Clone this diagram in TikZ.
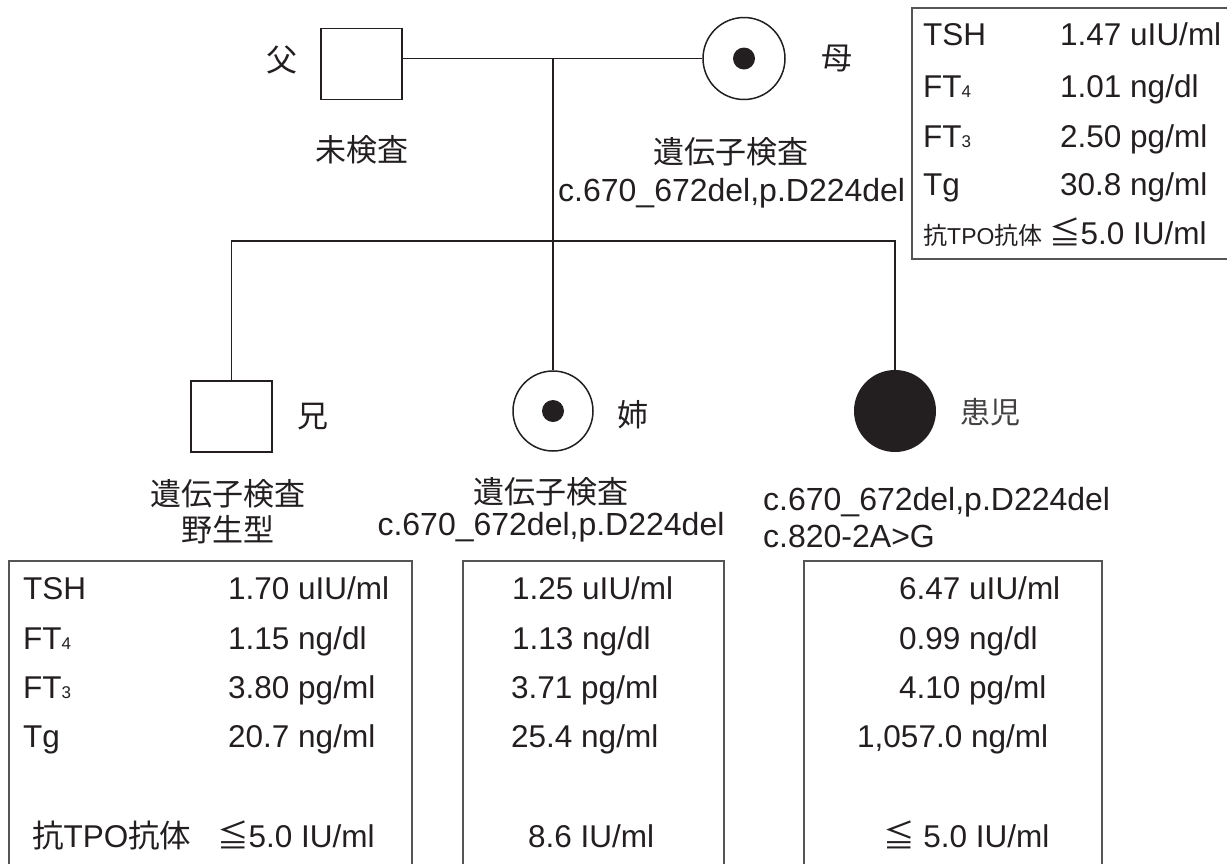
\documentclass[tikz,border=0pt]{standalone}
\usepackage{fontspec}
\setmainfont{Liberation Sans}
\newfontfamily\cjk{Noto Sans CJK JP}
\definecolor{ink}{HTML}{231F20}
\definecolor{boxgray}{HTML}{555555}
\newcommand\smallsub[1]{{\fontsize{17}{17}\selectfont #1}}
\newcommand\jpsmall[1]{{\cjk\fontsize{24}{24}\selectfont #1}}
\begin{document}
\begin{tikzpicture}[x=1pt,y=-1pt,
  every node/.style={inner sep=0pt, text=ink},
  txt/.style={font=\fontsize{31.5}{31.5}\selectfont},
  gene/.style={font=\fontsize{32}{32}\selectfont},
  jp/.style={font=\cjk\fontsize{31}{31}\selectfont},
  jplight/.style={font=\cjk\fontsize{30}{30}\selectfont, text=ink!85},
  row/.style={txt, anchor=base west},
  pline/.style={draw=ink, line width=1.5pt},
  tbox/.style={draw=boxgray, line width=2pt},
  sq/.style={draw=ink, line width=1.8pt, minimum width=81pt, minimum height=71pt},
  circ/.style={circle, draw=ink, line width=1.5pt, minimum size=#1},
  dotc/.style={circle, fill=ink, minimum size=22pt}]
\useasboundingbox (0,0) rectangle (1227,863);
\clip (0,0) rectangle (1227,863);
\fill[white] (0,0) rectangle (1227,863);

% pedigree symbols
\node[sq] (father) at (361.5,64) {};
\node[circ=82pt] (mother) at (744,58.5) {};
\node[dotc] (motherdot) at (744,58.5) {};
\node[sq] (brother) at (231.5,416.5) {};
\node[circ=80pt] (sister) at (553,411) {};
\node[dotc] (sisterdot) at (553,411) {};
\node[circle, fill=ink, minimum size=82pt] (proband) at (895,411) {};

\coordinate (mid) at (553,58.5);
\coordinate (sib) at (553,241);

% connectors
\draw[pline] (mother.west) -- (father.east |- mother.west);
\draw[pline] (mid) -- (sister.north);
\draw[pline] (brother.north) |- (sib) -| (proband.north);

% labels
\node[jp] (lfather) at (282,60) {父};
\node[jp] (lmother) at (837,58) {母};
\node[jp] (lbrother) at (313,417) {兄};
\node[jp] (lsister) at (633,415) {姉};
\node[jplight] (lproband) at (990,412) {患児};

\node[jp] (fnote) at (362,150) {未検査};
\node[jp] (mnote1) at (731,152) {遺伝子検査};
\node[gene, anchor=west] (mnote2) at (558,193) {c.670\_672del,p.D224del};
\node[jp] (bnote1) at (228,494) {遺伝子検査};
\node[jp] (bnote2) at (228,530) {野生型};
\node[jp] (snote1) at (551,492) {遺伝子検査};
\node[gene] (snote2) at (551,527) {c.670\_672del,p.D224del};
\node[gene, anchor=base west] (pnote1) at (763,510) {c.670\_672del,p.D224del};
\node[gene, anchor=base west] (pnote2) at (763,547) {c.820-2A>G};

% top-right box (mother)
\draw[tbox] (912,8) rectangle (1240,259);
\node[row] (m1l) at (923,45) {TSH};
\node[row] (m1v) at (1060,45) {1.47 uIU/ml};
\node[row] (m2l) at (923,97) {FT\smallsub{4}};
\node[row] (m2v) at (1060,97) {1.01 ng/dl};
\node[row] (m3l) at (923,147) {FT\smallsub{3}};
\node[row] (m3v) at (1060,147) {2.50 pg/ml};
\node[row] (m4l) at (923,195) {Tg};
\node[row] (m4v) at (1060,195) {30.8 ng/ml};
\node[row] (m5l) at (923,244) {\jpsmall{抗}{\fontsize{23}{23}\selectfont TPO}\jpsmall{抗体}};
\node[row] (m5v) at (1049,244) {{\cjk ≦}5.0 IU/ml};

% brother box
\draw[tbox] (9,561) rectangle (412,880);
\node[row] (b1l) at (23,599) {TSH};
\node[row] (b1v) at (228,599) {1.70 uIU/ml};
\node[row] (b2l) at (23,649) {FT\smallsub{4}};
\node[row] (b2v) at (228,649) {1.15 ng/dl};
\node[row] (b3l) at (23,698) {FT\smallsub{3}};
\node[row] (b3v) at (228,698) {3.80 pg/ml};
\node[row] (b4l) at (23,747) {Tg};
\node[row] (b4v) at (228,747) {20.7 ng/ml};
\node[row] (b5l) at (32,847) {{\cjk 抗}TPO{\cjk 抗体}};
\node[row] (b5v) at (217,847) {{\cjk ≦}5.0 IU/ml};

% sister box
\draw[tbox] (463,561) rectangle (724,880);
\node[row] (s1v) at (512,599) {1.25 uIU/ml};
\node[row] (s2v) at (512,649) {1.13 ng/dl};
\node[row] (s3v) at (511,698) {3.71 pg/ml};
\node[row] (s4v) at (511,747) {25.4 ng/ml};
\node[row] (s5v) at (528,847) {8.6 IU/ml};

% proband box
\draw[tbox] (804,561) rectangle (1102,880);
\node[row] (p1v) at (899,599) {6.47 uIU/ml};
\node[row] (p2v) at (899,649) {0.99 ng/dl};
\node[row] (p3v) at (899,698) {4.10 pg/ml};
\node[row] (p4v) at (857,747) {1,057.0 ng/ml};
\node[row] (p5v) at (883,847) {{\cjk ≦} 5.0 IU/ml};
\end{tikzpicture}
\end{document}
